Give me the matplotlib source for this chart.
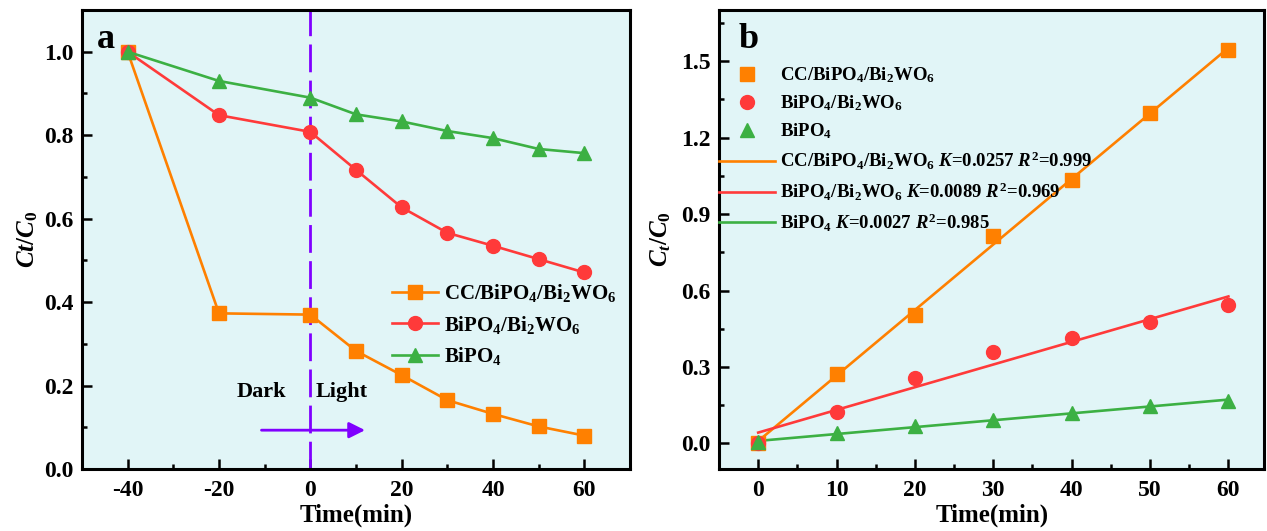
import numpy as np
import matplotlib
matplotlib.use('Agg')
import matplotlib.pyplot as plt
from matplotlib.ticker import MultipleLocator

plt.rcParams['font.family'] = ['Liberation Serif', 'DejaVu Serif']
plt.rcParams['font.weight'] = 'bold'
plt.rcParams['axes.unicode_minus'] = False
plt.rcParams['mathtext.fontset'] = 'custom'
plt.rcParams['mathtext.rm'] = 'Liberation Serif:bold'
plt.rcParams['mathtext.bf'] = 'Liberation Serif:bold'
plt.rcParams['mathtext.it'] = 'Liberation Serif:italic:bold'

# --- data ---
t_a = [-40, -20, 0, 10, 20, 30, 40, 50, 60]
cc_a = [1.0, 0.373, 0.370, 0.283, 0.225, 0.165, 0.132, 0.102, 0.080]
bpbw_a = [1.0, 0.848, 0.808, 0.717, 0.627, 0.566, 0.535, 0.503, 0.471]
bp_a = [1.0, 0.930, 0.890, 0.850, 0.833, 0.810, 0.793, 0.767, 0.757]

t_b = [0, 10, 20, 30, 40, 50, 60]
cc_b = [0.0, 0.272, 0.504, 0.815, 1.035, 1.295, 1.543]
bpbw_b = [0.0, 0.122, 0.256, 0.358, 0.413, 0.476, 0.543]
bp_b = [0.005, 0.043, 0.067, 0.094, 0.118, 0.146, 0.165]

k_vals = [0.0257, 0.0089, 0.0027]
r2_vals = [0.999, 0.969, 0.985]

names = ['CC/BiPO$_4$/Bi$_2$WO$_6$', 'BiPO$_4$/Bi$_2$WO$_6$', 'BiPO$_4$']
colors = ['#ff8000', '#ff3a3a', '#3cb043']
markers = ['s', 'o', '^']
bg = '#e1f5f7'
purple = '#8000ff'

fig = plt.figure(figsize=(12.67, 5.31), dpi=100)
ax1 = fig.add_axes([0.0647, 0.1168, 0.4325, 0.8643])
ax2 = fig.add_axes([0.5675, 0.1168, 0.4305, 0.8643])


def style_axes(ax):
    ax.set_facecolor(bg)
    for s in ax.spines.values():
        s.set_linewidth(2.2)
    ax.tick_params(which='both', direction='in', width=1.8, labelsize=17,
                   top=False, right=False)
    ax.tick_params(which='major', length=7)
    ax.tick_params(which='minor', length=3.5)
    ax.tick_params(axis='x', pad=8)
    ax.tick_params(axis='y', pad=6)
    plt.setp(ax.get_xticklabels() + ax.get_yticklabels(), fontweight='bold')


# --- panel a ---
for y, c, m, n in zip([cc_a, bpbw_a, bp_a], colors, markers, names):
    ax1.plot(t_a, y, color=c, marker=m, markersize=10, lw=1.9,
             markeredgecolor=c, label=n, zorder=3)
ax1.axvline(0, color=purple, lw=2, ls=(0, (10, 3)), zorder=2)
ax1.annotate('', xy=(12.6, 0.093), xytext=(-11.3, 0.093),
             arrowprops=dict(arrowstyle='-|>', color=purple, lw=2,
                             mutation_scale=24))
ax1.text(-10.7, 0.184, 'Dark', ha='center', va='center', fontsize=16, fontweight='bold')
ax1.text(6.8, 0.184, 'Light', ha='center', va='center', fontsize=16, fontweight='bold')
ax1.text(0.028, 0.935, 'a', transform=ax1.transAxes, fontsize=26,
         fontweight='bold', ha='left', va='center')
ax1.set_xlim(-50, 70)
ax1.set_ylim(0, 1.1)
ax1.xaxis.set_major_locator(MultipleLocator(20))
ax1.xaxis.set_minor_locator(MultipleLocator(10))
ax1.yaxis.set_major_locator(MultipleLocator(0.2))
ax1.yaxis.set_minor_locator(MultipleLocator(0.1))
ax1.yaxis.set_major_formatter(lambda v, p: f'{v:.1f}')
ax1.set_xlabel('Time(min)', fontsize=18, fontweight='bold', labelpad=2)
ax1.set_ylabel('$Ct/C_0$', fontsize=18, labelpad=3)
style_axes(ax1)
ax1.legend(loc='upper left', bbox_to_anchor=(0.566, 0.407), frameon=False,
           borderpad=0, borderaxespad=0, fontsize=15, handlelength=2.2,
           handletextpad=0.3, labelspacing=0.45)

# --- panel b ---
for y, c, m, n in zip([cc_b, bpbw_b, bp_b], colors, markers, names):
    ax2.plot(t_b, y, ls='none', color=c, marker=m, markersize=10,
             markeredgecolor=c, label=n, zorder=3)
tb = np.array(t_b, dtype=float)
for y, c, n, k, r2 in zip([cc_b, bpbw_b, bp_b], colors, names, k_vals, r2_vals):
    b0 = np.mean(y) - k * tb.mean()
    ax2.plot(tb, b0 + k * tb, color=c, lw=1.9, zorder=2,
             label=n + f' $\\mathit{{K}}$=${k:.4f}$ $\\mathit{{R}}^{{2}}$=${r2:.3f}$')
ax2.text(0.035, 0.935, 'b', transform=ax2.transAxes, fontsize=26,
         fontweight='bold', ha='left', va='center')
ax2.set_xlim(-5, 64.6)
ax2.set_ylim(-0.1, 1.7)
ax2.xaxis.set_major_locator(MultipleLocator(10))
ax2.xaxis.set_minor_locator(MultipleLocator(5))
ax2.yaxis.set_major_locator(MultipleLocator(0.3))
ax2.yaxis.set_minor_locator(MultipleLocator(0.15))
ax2.yaxis.set_major_formatter(lambda v, p: f'{v:.1f}')
ax2.set_xlabel('Time(min)', fontsize=18, fontweight='bold', labelpad=2)
ax2.set_ylabel('$C_t/C_0$', fontsize=18, labelpad=6)
style_axes(ax2)
ax2.legend(loc='upper left', bbox_to_anchor=(0.0, 0.880), frameon=False,
           borderpad=0, borderaxespad=0, fontsize=13.5, handlelength=3.0,
           handletextpad=0.25, labelspacing=0.46, numpoints=1)

fig.savefig('out.png', dpi=100, facecolor='white')
